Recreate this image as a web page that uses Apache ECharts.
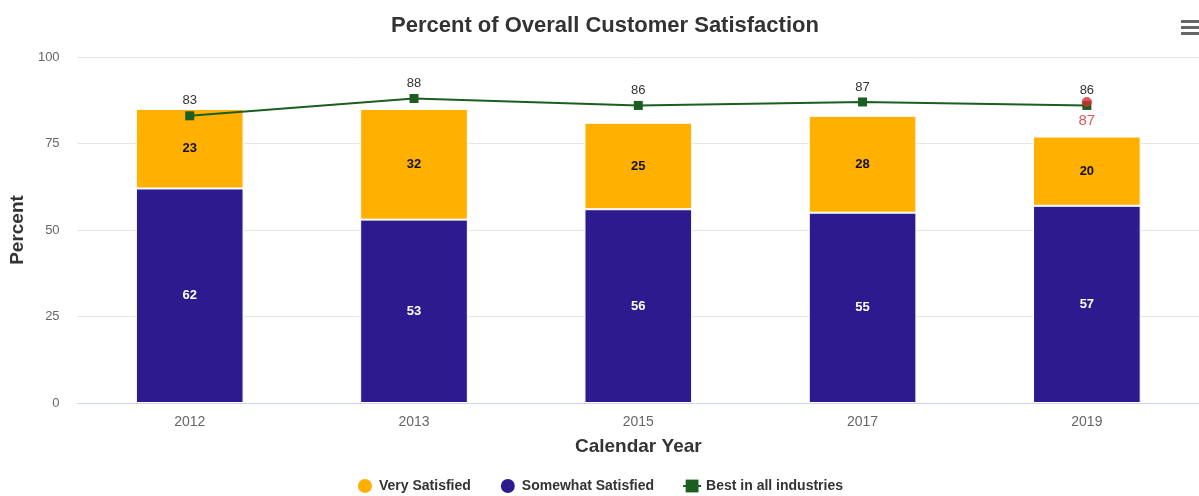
<!DOCTYPE html>
<html>
<head>
<meta charset="utf-8">
<script src="https://cdn.jsdelivr.net/npm/echarts@6/dist/echarts.min.js"></script>
<style>
html, body { margin: 0; padding: 0; background: #fff; }
#main { width: 1199px; height: 496px; }
</style>
</head>
<body>
<div id="main"></div>
<script>
var years = ['2012', '2013', '2015', '2017', '2019'];
var verySatisfied = [23, 32, 25, 28, 20];
var somewhatSatisfied = [62, 53, 56, 55, 57];
var bestInIndustries = [83, 88, 86, 87, 86];
var companyPoint = [null, null, null, null, 87];

var myChart = echarts.init(document.getElementById('main'));

// 막대 라벨 공통 스타일
var barLabel = function(color){
	return {
		show: true,
		position: 'inside',
		color: color,
		fontWeight: 'bold',
		fontSize: 13
	};
};

var option = {
	animation: false,
	textStyle: { fontFamily: 'Liberation Sans, Arial, sans-serif' },
	title: {
		text: 'Percent of Overall Customer Satisfaction',
		left: 386,
		top: 10,
		textStyle: { fontSize: 22, fontWeight: 'bold', color: '#333333' }
	},
	legend: {
		bottom: -4,
		left: 'center',
		itemGap: 28,
		itemWidth: 18,
		itemHeight: 16,
		textStyle: { fontSize: 14, fontWeight: 'bold', color: '#333333' },
		data: [
			{ name: 'Very Satisfied', icon: 'circle' },
			{ name: 'Somewhat Satisfied', icon: 'circle' },
			{ name: 'Best in all industries' }
		]
	},
	grid: { left: 77, right: -6, top: 57, bottom: 93 },
	xAxis: {
		type: 'category',
		data: years,
		name: 'Calendar Year',
		nameLocation: 'middle',
		nameGap: 34,
		nameTextStyle: { fontSize: 19, fontWeight: 'bold', color: '#333333' },
		axisLine: { lineStyle: { color: '#ccd6eb' } },
		axisTick: { show: false },
		axisLabel: { color: '#666666', fontSize: 14, margin: 12 }
	},
	yAxis: {
		type: 'value',
		min: 0,
		max: 100,
		interval: 25,
		name: 'Percent',
		nameLocation: 'middle',
		nameGap: 50,
		nameTextStyle: { fontSize: 19, fontWeight: 'bold', color: '#333333' },
		axisLabel: { color: '#666666', fontSize: 13, margin: 18 },
		splitLine: { lineStyle: { color: '#e6e6e6' } }
	},
	series: [
		{
			name: 'Somewhat Satisfied',
			type: 'bar',
			stack: 'sat',
			barWidth: '48%',
			data: somewhatSatisfied,
			itemStyle: { color: '#2e1a8f', borderColor: '#ffffff', borderWidth: 1 },
			label: barLabel('#ffffff')
		},
		{
			name: 'Very Satisfied',
			type: 'bar',
			stack: 'sat',
			barWidth: '48%',
			data: verySatisfied,
			itemStyle: { color: '#ffb000', borderColor: '#ffffff', borderWidth: 1 },
			label: barLabel('#111111')
		},
		{
			name: 'Best in all industries',
			type: 'line',
			data: bestInIndustries,
			symbol: 'rect',
			symbolSize: 9,
			itemStyle: { color: '#1b5e20' },
			lineStyle: { color: '#1b5e20', width: 2 },
			label: { show: true, position: 'top', distance: 4, color: '#333333', fontSize: 13 },
			z: 3
		},
		{
			name: 'Company',
			type: 'scatter',
			data: companyPoint,
			symbol: 'circle',
			symbolSize: 10,
			itemStyle: { color: '#d32f2f' },
			label: { show: true, position: 'bottom', distance: 6, color: '#d32f2f', fontSize: 15 },
			zlevel: 1,
			z: 20
		}
	],
	graphic: [
		{ type: 'rect', left: 1181, top: 20, shape: { width: 18, height: 3 }, style: { fill: '#666666' } },
		{ type: 'rect', left: 1181, top: 26, shape: { width: 18, height: 3 }, style: { fill: '#666666' } },
		{ type: 'rect', left: 1181, top: 32, shape: { width: 18, height: 3 }, style: { fill: '#666666' } }
	]
};
myChart.setOption(option);
</script>
</body>
</html>
